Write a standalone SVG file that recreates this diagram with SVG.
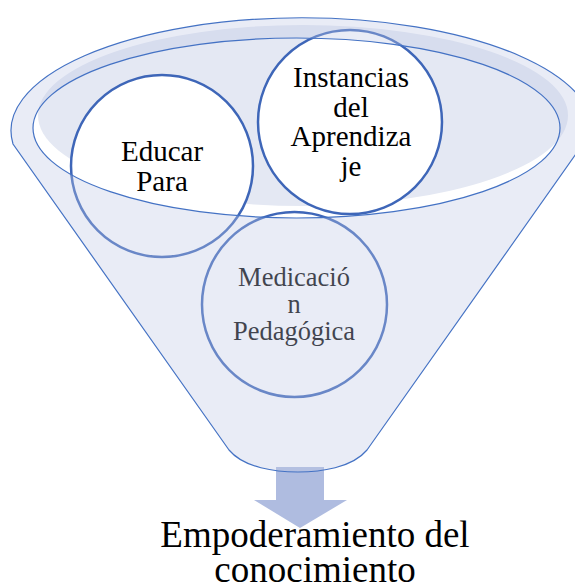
<svg xmlns="http://www.w3.org/2000/svg" width="575" height="588" viewBox="0 0 575 588">
<style>
.node circle{fill:#ffffff;stroke:#3e66b8;stroke-width:2.5}
.t{font-family:"Liberation Serif","Times New Roman",serif;text-anchor:middle;fill:#000}
.line{fill:none;stroke:#4472c4;stroke-width:1.2}
</style>
<rect width="575" height="588" fill="#ffffff"/>
<g id="funnel-back">
<ellipse cx="303" cy="115.5" rx="265" ry="90.5" fill="#e4e8f3"/>
</g>
<g id="connectors">
<polygon points="276,467 324,467 324,500 347,500 300,528 254,500 276,500" fill="#afbce0"/>
</g>
<g id="node-educar" class="node">
<circle cx="162" cy="166" r="91"/>
<text class="t" font-size="29" x="162" y="161">Educar</text>
<text class="t" font-size="29" x="162" y="190.5">Para</text>
</g>
<g id="node-instancias" class="node">
<circle cx="350" cy="122" r="92"/>
<text class="t" font-size="29" x="351" y="87">Instancias</text>
<text class="t" font-size="29" x="351" y="116.5">del</text>
<text class="t" font-size="29" x="351" y="146">Aprendiza</text>
<text class="t" font-size="29" x="351" y="175.5">je</text>
</g>
<g id="node-medicacion" class="node">
<circle cx="294.5" cy="304.5" r="92.5"/>
<text class="t" font-size="26.5" x="294" y="286" fill="#222">Medicació</text>
<text class="t" font-size="26.5" x="294" y="313" fill="#222">n</text>
<text class="t" font-size="26.5" x="294" y="340" fill="#222">Pedagógica</text>
</g>
<g id="funnel-front">
<path fill-rule="evenodd" fill="rgb(190,199,229)" fill-opacity="0.342" d="M13,144 A291,113 0 1 1 591,144 L583,144 L367,450 C352,468 320,472 298,472 C276,472 244,468 229,450 Z M33,128 A263.5,90 0 1 0 560,128 A263.5,90 0 1 0 33,128 Z"/>
<path class="line" d="M13,144 A291,113 0 1 1 591,144 L583,144 L367,450 C352,468 320,472 298,472 C276,472 244,468 229,450 Z"/>
<ellipse class="line" cx="296.5" cy="128" rx="263.5" ry="90"/>
</g>
<g id="result">
<text class="t" font-size="37" x="315" y="547">Empoderamiento del</text>
<text class="t" font-size="37" x="315" y="582">conocimiento</text>
</g>
</svg>
